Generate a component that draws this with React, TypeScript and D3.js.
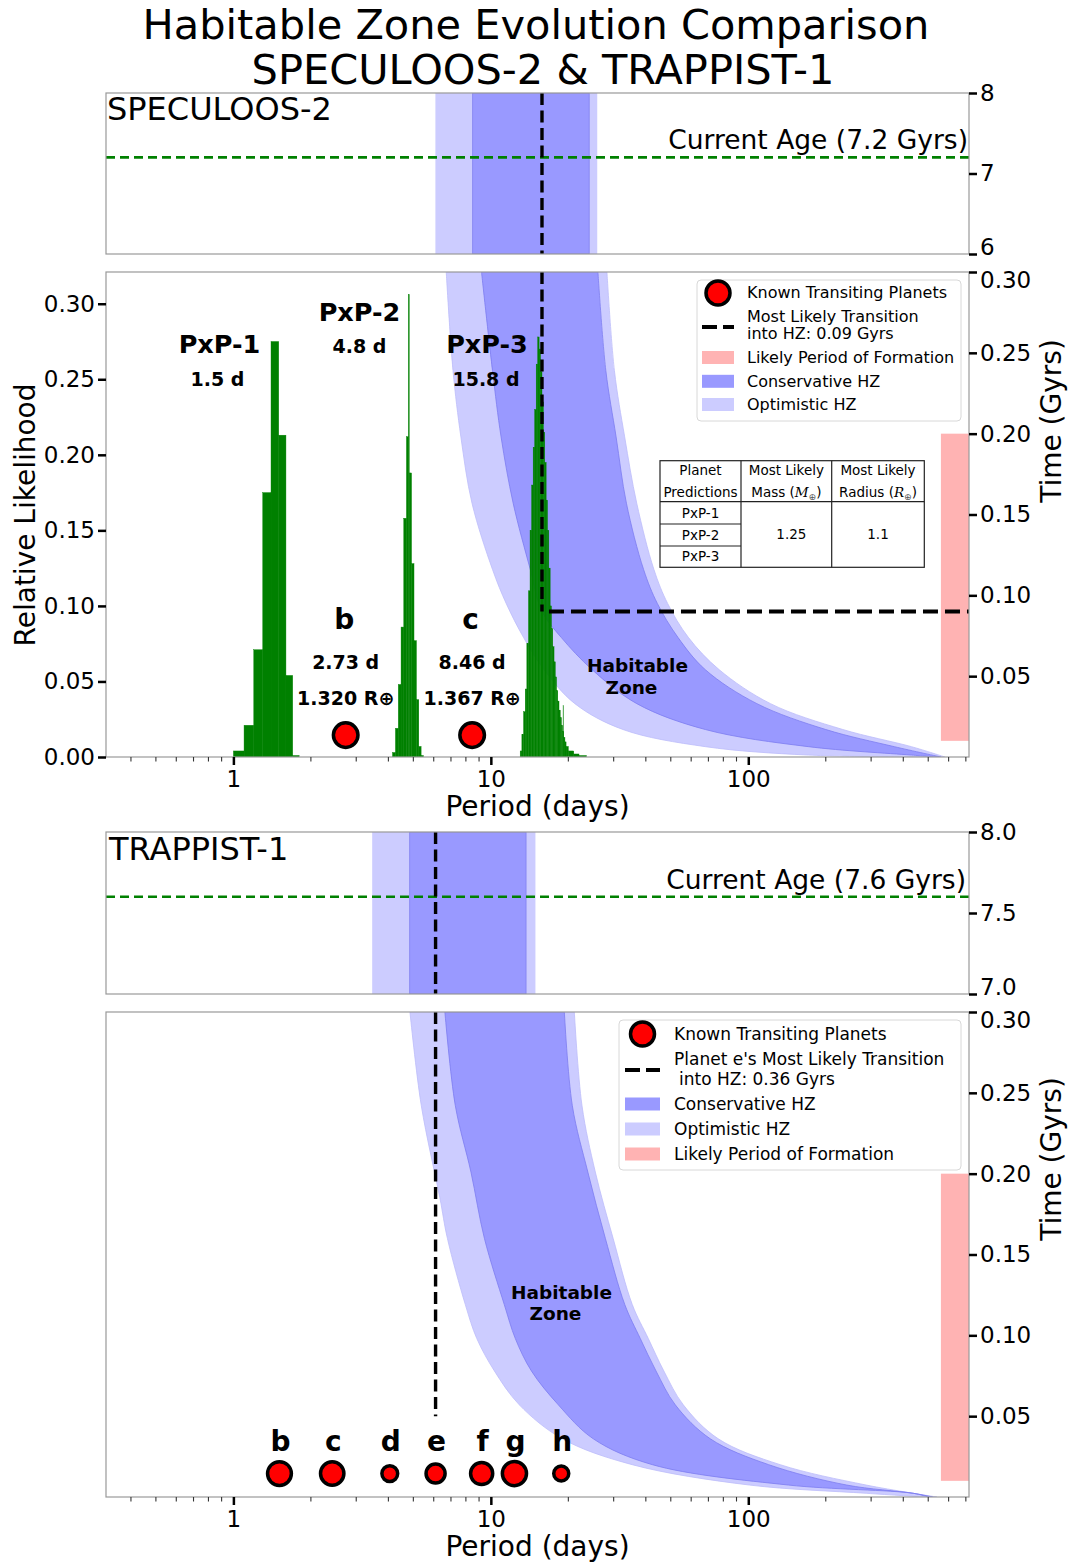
import React, { useEffect, useRef } from "react";
import * as d3 from "d3";

// ---------------- data ----------------
const periodDomain = [0.32, 720];
const periodTicks = [1, 10, 100];
const periodMinorTicks = [
  0.4, 0.5, 0.6, 0.7, 0.8, 0.9, 2, 3, 4, 5, 6, 7, 8, 9, 20, 30, 40, 50, 60, 70, 80, 90,
  200, 300, 400, 500, 600, 700,
];
const timeTicks = [0.05, 0.1, 0.15, 0.2, 0.25, 0.3];
const likelihoodTicks = [0, 0.05, 0.1, 0.15, 0.2, 0.25, 0.3];
const formationGyr = [0.01, 0.2];
const formationStartDays = 560;

// SPECULOOS-2
const specAge = 7.2;
const specAgeTicks = [6, 7, 8];
const specNowHZ = [6.09, 8.5, 24.1, 25.9]; // opt inner, cons inner, cons outer, opt outer (days)
const specTransitionPeriod = 15.8;
const specTransitionGyr = 0.09;
// [time (Gyr), period (days)]
const specOptInner = [
  [0.3, 6.71], [0.239, 7.13], [0.198, 7.65], [0.157, 8.45], [0.116, 10.15], [0.095, 11.47],
  [0.074, 13.39], [0.054, 16.09], [0.033, 21.2], [0.017, 32.6], [0.0064, 68.1], [0.0012, 171], [0, 520],
];
const specConsInner = [
  [0.3, 9.2], [0.239, 10.15], [0.198, 10.96], [0.157, 12.21], [0.116, 14.23], [0.09, 15.8],
  [0.074, 18.76], [0.054, 24.74], [0.033, 36.9], [0.017, 68.1], [0.0064, 171], [0.0012, 430], [0, 540],
];
const specConsOuter = [
  [0.3, 26.06], [0.239, 27.97], [0.198, 30.66], [0.157, 33.62], [0.116, 39.2], [0.095, 44.33],
  [0.074, 53.3], [0.054, 68.1], [0.033, 108], [0.017, 200], [0.0064, 369], [0, 560],
];
const specOptOuter = [
  [0.3, 28.25], [0.239, 30.2], [0.198, 33.1], [0.157, 36.87], [0.116, 43.0], [0.095, 48.6],
  [0.074, 58.5], [0.054, 77.1], [0.033, 122], [0.017, 233], [0.0064, 430], [0, 580],
];
const specPlanetNames = ["b", "c"];
const specPlanetPeriods = [2.73, 8.46];
const specPlanetRadii = ["1.320", "1.367"];
const specPlanetTime = 0.0145;

const pxpNames = ["PxP-1", "PxP-2", "PxP-3"];
const pxpPeriodLabels = ["1.5 d", "4.8 d", "15.8 d"];
const pxp1Edges = [1.0, 1.1, 1.2, 1.3, 1.4, 1.5, 1.6, 1.7, 1.8];
const pxp1Heights = [0.004, 0.021, 0.071, 0.175, 0.275, 0.213, 0.054, 0.001];
const pxp2Edges = [4.15, 4.26, 4.37, 4.48, 4.59, 4.7, 4.78, 4.82, 4.92, 5.03, 5.14, 5.25, 5.36, 5.47];
const pxp2Heights = [0.003, 0.019, 0.048, 0.086, 0.158, 0.212, 0.306, 0.188, 0.128, 0.077, 0.038, 0.007, 0.001];
const pxp3Edges = [
  13.0, 13.2, 13.4, 13.6, 13.8, 14.0, 14.2, 14.4, 14.6, 14.8, 15.0, 15.2, 15.4, 15.6, 15.8, 16.0,
  16.2, 16.4, 16.6, 16.8, 17.0, 17.2, 17.4, 17.6, 17.8, 18.0, 18.2, 18.4, 18.6, 18.8, 19.0, 19.2,
  19.4, 19.6, 20.0, 21.0, 22.0, 23.5,
];
const pxp3Heights = [
  0.004, 0.015, 0.03, 0.045, 0.075, 0.11, 0.15, 0.18, 0.205, 0.23, 0.26, 0.278, 0.27, 0.255, 0.235,
  0.215, 0.195, 0.17, 0.15, 0.125, 0.1, 0.085, 0.073, 0.063, 0.053, 0.044, 0.037, 0.031, 0.026,
  0.021, 0.017, 0.013, 0.01, 0.007, 0.004, 0.002, 0.001,
];
const pxp3SpikeEdges = [19.08, 19.14];
const pxp3SpikeHeight = 0.034;

const tableHeader = [["Planet", "Predictions"], ["Most Likely", "Mass ("], ["Most Likely", "Radius ("]];
const tableRows = ["PxP-1", "PxP-2", "PxP-3"];
const predictedMass = "1.25";
const predictedRadius = "1.1";

// TRAPPIST-1
const trapAge = 7.6;
const trapAgeTicks = [7.0, 7.5, 8.0];
const trapNowHZ = [3.46, 4.84, 13.7, 14.9];
const trapTransitionPeriod = 6.1;
const trapTransitionLineFrom = 0.05;
const trapOptInner = [
  [0.3, 4.85], [0.242, 5.37], [0.185, 6.34], [0.16, 6.78], [0.119, 7.96], [0.098, 8.82],
  [0.078, 10.32], [0.057, 12.9], [0.036, 18.96], [0.02, 35.4], [0.0074, 101], [0.0023, 287], [0, 480],
];
const trapConsInner = [
  [0.3, 6.63], [0.242, 7.28], [0.201, 8.37], [0.16, 9.44], [0.119, 11.28], [0.098, 12.45],
  [0.078, 14.37], [0.057, 18.29], [0.036, 25.0], [0.02, 42.4], [0.0074, 143], [0.0023, 437], [0, 500],
];
const trapConsOuter = [
  [0.3, 19.3], [0.242, 20.73], [0.201, 23.81], [0.16, 27.85], [0.119, 33.14], [0.098, 38.07],
  [0.078, 43.8], [0.057, 52.06], [0.036, 71.2], [0.02, 120], [0.0074, 241], [0.0023, 437], [0, 520],
];
const trapOptOuter = [
  [0.3, 21.1], [0.242, 22.6], [0.201, 25.46], [0.16, 29.85], [0.119, 35.44], [0.098, 40.9],
  [0.078, 46.97], [0.057, 55.93], [0.036, 76.45], [0.02, 133], [0.0074, 287], [0, 540],
];
const trapPlanetNames = ["b", "c", "d", "e", "f", "g", "h"];
const trapPlanetPeriods = [1.51, 2.42, 4.05, 6.1, 9.21, 12.35, 18.77];
const trapPlanetRadii = [1.116, 1.097, 0.788, 0.92, 1.045, 1.129, 0.755];
const trapPlanetTime = 0.0145;

// ---------------- styling ----------------
const W = 1072;
const H = 1564;
const FONT = "DejaVu Sans, Verdana, sans-serif";
const L = 106;
const R = 969;
const OPT = "#ccccff";
const CONS = "#9999ff";
const PINK = "#ffb3b3";
const GREEN = "#008000";
const SPINE = "#999";

const App = () => {
  const ref = useRef<SVGSVGElement>(null);

  useEffect(() => {
    const svg = d3.select(ref.current);
    svg.selectAll("*").remove();
    svg.attr("font-family", FONT);

    const x = d3.scaleLog().domain(periodDomain).range([L, R]);

    const text = (g: any, px: number, py: number, s: string, size: number, opts: any = {}) =>
      g
        .append("text")
        .attr("x", px)
        .attr("y", py)
        .attr("font-size", size)
        .attr("font-weight", opts.bold ? "bold" : "normal")
        .attr("text-anchor", opts.anchor || "start")
        .attr("fill", "#000")
        .text(s);

    const styleAxis = (a: any) => {
      a.select(".domain").remove();
      a.selectAll(".tick line").attr("stroke", "#000").attr("stroke-width", 2.5);
      a.selectAll(".tick text").attr("font-size", 23).attr("font-family", FONT).attr("fill", "#000");
    };

    const frame = (top: number, bottom: number) =>
      svg
        .append("rect")
        .attr("x", L)
        .attr("y", top)
        .attr("width", R - L)
        .attr("height", bottom - top)
        .attr("fill", "none")
        .attr("stroke", SPINE)
        .attr("stroke-width", 1.2);

    const clip = (id: string, top: number, bottom: number) => {
      svg
        .append("clipPath")
        .attr("id", id)
        .append("rect")
        .attr("x", L)
        .attr("y", top)
        .attr("width", R - L)
        .attr("height", bottom - top);
      return svg.append("g").attr("clip-path", `url(#${id})`);
    };

    // shift = [value, pixels] nudges one label away from a neighbouring panel's label
    const rightAxis = (y: any, ticks: number[], fmt: any, shift: number[]) => {
      const a = svg
        .append("g")
        .attr("transform", `translate(${R},0)`)
        .call(d3.axisRight(y).tickValues(ticks).tickSize(8).tickPadding(3).tickFormat(fmt))
        .call(styleAxis);
      a.selectAll(".tick text")
        .filter((d: any) => Math.abs(d - shift[0]) < 1e-9)
        .attr("transform", `translate(0,${shift[1]})`);
      return a;
    };

    const bottomAxis = (bottom: number) => {
      svg
        .append("g")
        .attr("transform", `translate(0,${bottom})`)
        .call(
          d3.axisBottom(x).tickValues(periodTicks).tickSize(8).tickPadding(6).tickFormat(d3.format("d"))
        )
        .call(styleAxis);
      svg
        .append("g")
        .selectAll("line")
        .data(periodMinorTicks)
        .join("line")
        .attr("x1", (d) => x(d))
        .attr("x2", (d) => x(d))
        .attr("y1", bottom)
        .attr("y2", bottom + 4.5)
        .attr("stroke", "#333")
        .attr("stroke-width", 1.1);
      text(svg, (L + R) / 2, bottom + 59, "Period (days)", 28, { anchor: "middle" });
    };

    const timeLabel = (cy: number) =>
      svg
        .append("text")
        .attr("transform", `translate(1061,${cy}) rotate(-90)`)
        .attr("text-anchor", "middle")
        .attr("font-size", 28)
        .text("Time (Gyrs)");

    const bandPath = (inner: number[][], outer: number[][], y: any) => {
      const line = d3
        .line<number[]>()
        .x((d) => x(d[1]))
        .y((d) => y(d[0]))
        .curve(d3.curveCatmullRom.alpha(0.5));
      const a = line(inner) as string;
      const b = line([...outer].reverse()) as string;
      return a + "L" + b.slice(1) + "Z";
    };

    const marker = (g: any, cx: number, cy: number, r: number) =>
      g
        .append("circle")
        .attr("cx", cx)
        .attr("cy", cy)
        .attr("r", r)
        .attr("fill", "#ff0000")
        .attr("stroke", "#000")
        .attr("stroke-width", 3.5);

    const histogram = (g: any, edges: number[], heights: number[], y: any) =>
      g
        .append("g")
        .selectAll("rect")
        .data(heights)
        .join("rect")
        .attr("x", (_d: number, i: number) => x(edges[i]))
        .attr("width", (_d: number, i: number) => x(edges[i + 1]) - x(edges[i]))
        .attr("y", (d: number) => y(d))
        .attr("height", (d: number) => y(0) - y(d))
        .attr("fill", GREEN)
        .attr("stroke", GREEN)
        .attr("stroke-width", 0.4);

    const vdash = (g: any, px: number, y1: number, y2: number) =>
      g
        .append("line")
        .attr("x1", px)
        .attr("x2", px)
        .attr("y1", y1)
        .attr("y2", y2)
        .attr("stroke", "#000")
        .attr("stroke-width", 3.4)
        .attr("stroke-dasharray", "12,5.5");

    const legend = (box: number[], hx: number[], tx: number, size: number, rows: any[]) => {
      const g = svg.append("g");
      g.append("rect")
        .attr("x", box[0])
        .attr("y", box[1])
        .attr("width", box[2])
        .attr("height", box[3])
        .attr("rx", 4)
        .attr("fill", "#fff")
        .attr("fill-opacity", 0.85)
        .attr("stroke", "#d8d8d8")
        .attr("stroke-width", 1);
      rows.forEach((r) => {
        if (r.kind === "marker") marker(g, (hx[0] + hx[1]) / 2, r.y, 12);
        else if (r.kind === "dash")
          g.append("line")
            .attr("x1", hx[0])
            .attr("x2", hx[1])
            .attr("y1", r.y)
            .attr("y2", r.y)
            .attr("stroke", "#000")
            .attr("stroke-width", 4)
            .attr("stroke-dasharray", "15,6");
        else
          g.append("rect")
            .attr("x", hx[0])
            .attr("y", r.y - 6.5)
            .attr("width", hx[1] - hx[0])
            .attr("height", 13)
            .attr("fill", r.color);
        r.lines.forEach((s: string, i: number) =>
          text(g, tx + (r.indent && i > 0 ? r.indent : 0), r.lineY[i], s, size).attr("dy", "0.36em")
        );
      });
    };

    // ---------------- title ----------------
    text(svg, W / 2, 39, "Habitable Zone Evolution Comparison", 41.5, { anchor: "middle" });
    text(svg, W / 2 + 7, 84, "SPECULOOS-2 & TRAPPIST-1", 41.5, { anchor: "middle" });

    // ---------------- panel A: SPECULOOS-2 now ----------------
    {
      const top = 93;
      const bottom = 254;
      const y = d3.scaleLinear().domain([6, 8]).range([bottom, top]);
      const g = clip("clipA", top, bottom);
      g.append("rect").attr("x", x(specNowHZ[0])).attr("width", x(specNowHZ[3]) - x(specNowHZ[0]))
        .attr("y", top).attr("height", bottom - top).attr("fill", OPT);
      g.append("rect").attr("x", x(specNowHZ[1])).attr("width", x(specNowHZ[2]) - x(specNowHZ[1]))
        .attr("y", top).attr("height", bottom - top).attr("fill", CONS)
        .attr("stroke", "#8080f0").attr("stroke-width", 0.8);
      g.append("line").attr("x1", L).attr("x2", R).attr("y1", y(specAge)).attr("y2", y(specAge))
        .attr("stroke", GREEN).attr("stroke-width", 2.6).attr("stroke-dasharray", "9,5");
      vdash(g, x(specTransitionPeriod), top, bottom);
      text(svg, L + 1, top + 27, "SPECULOOS-2", 32);
      text(svg, R - 1, y(specAge) - 8, `Current Age (${specAge} Gyrs)`, 26.5, { anchor: "end" });
      frame(top, bottom);
      rightAxis(y, specAgeTicks, d3.format("d"), [6, -7]);
    }

    // ---------------- panel B: SPECULOOS-2 early ----------------
    {
      const top = 272;
      const bottom = 757;
      const yT = d3.scaleLinear().domain([0, 0.3]).range([bottom, top]);
      const yL = d3.scaleLinear().domain([0, 0.321]).range([bottom, top]);
      const g = clip("clipB", top, bottom);
      g.append("path").attr("d", bandPath(specOptInner, specOptOuter, yT)).attr("fill", OPT)
        .attr("stroke", "#bcbcfa").attr("stroke-width", 0.8);
      g.append("path").attr("d", bandPath(specConsInner, specConsOuter, yT)).attr("fill", CONS)
        .attr("stroke", "#7c7cf0").attr("stroke-width", 0.8);
      g.append("rect").attr("x", x(formationStartDays)).attr("width", R - x(formationStartDays))
        .attr("y", yT(formationGyr[1])).attr("height", yT(formationGyr[0]) - yT(formationGyr[1]))
        .attr("fill", PINK);
      histogram(g, pxp1Edges, pxp1Heights, yL);
      histogram(g, pxp2Edges, pxp2Heights, yL);
      histogram(g, pxp3Edges, pxp3Heights, yL);
      histogram(g, pxp3SpikeEdges, [pxp3SpikeHeight], yL);

      const xt = x(specTransitionPeriod);
      vdash(g, xt, top, yT(specTransitionGyr));
      g.append("line").attr("x1", xt).attr("x2", R).attr("y1", yT(specTransitionGyr)).attr("y2", yT(specTransitionGyr))
        .attr("stroke", "#000").attr("stroke-width", 4).attr("stroke-dasharray", "15,7")
        .attr("stroke-dashoffset", 15);

      // known planets
      specPlanetPeriods.forEach((p, i) => {
        const cx = x(p);
        const cy = yL(specPlanetTime);
        marker(g, cx, cy, 12.3);
        text(svg, cx - 1.5, cy - 106, specPlanetNames[i], 28, { bold: true, anchor: "middle" });
        text(svg, cx, cy - 66, `${p.toFixed(2)} d`, 19, { bold: true, anchor: "middle" });
        text(svg, cx, cy - 30, `${specPlanetRadii[i]} R\u2295`, 19, { bold: true, anchor: "middle" });
      });

      // predicted planet labels
      const labelPos = [
        [219.5, 353, 217.5, 386],
        [359.5, 321, 359.5, 353],
        [487, 353, 486, 386],
      ];
      pxpNames.forEach((n, i) => {
        const p = labelPos[i];
        text(svg, p[0], p[1], n, 25.5, { bold: true, anchor: "middle" });
        text(svg, p[2], p[3], pxpPeriodLabels[i], 19, { bold: true, anchor: "middle" });
      });
      text(svg, 637.5, 672, "Habitable", 18.5, { bold: true, anchor: "middle" });
      text(svg, 631.5, 694, "Zone", 18.5, { bold: true, anchor: "middle" });

      // table of predictions
      const tx = [660, 741, 831.7, 924.3];
      const ty = [460.7, 501.7, 524, 546, 567.3];
      const tg = svg.append("g").attr("font-size", 13.5);
      tg.append("rect").attr("x", tx[0]).attr("y", ty[0]).attr("width", tx[3] - tx[0])
        .attr("height", ty[4] - ty[0]).attr("fill", "#fff").attr("stroke", "#222").attr("stroke-width", 1.2);
      const seg = (x1: number, y1: number, x2: number, y2: number) =>
        tg.append("line").attr("x1", x1).attr("y1", y1).attr("x2", x2).attr("y2", y2)
          .attr("stroke", "#222").attr("stroke-width", 1.2);
      seg(tx[1], ty[0], tx[1], ty[4]);
      seg(tx[2], ty[0], tx[2], ty[4]);
      seg(tx[0], ty[1], tx[3], ty[1]);
      seg(tx[0], ty[2], tx[1], ty[2]);
      seg(tx[0], ty[3], tx[1], ty[3]);
      tableHeader.forEach((h, c) => {
        const cx = (tx[c] + tx[c + 1]) / 2;
        tg.append("text").attr("x", cx).attr("y", 474.5).attr("text-anchor", "middle").text(h[0]);
        const t2 = tg.append("text").attr("x", cx).attr("y", 496.5).attr("text-anchor", "middle").text(h[1]);
        if (c > 0) {
          t2.append("tspan").attr("font-family", "DejaVu Serif").attr("font-style", "italic")
            .text(c === 1 ? "M" : "R");
          t2.append("tspan").attr("font-size", 9).attr("dy", 3).attr("fill", "#555").text("\u2295");
          t2.append("tspan").attr("dy", -3).text(")");
        }
      });
      tableRows.forEach((r, i) => {
        tg.append("text").attr("x", (tx[0] + tx[1]) / 2).attr("y", (ty[i + 1] + ty[i + 2]) / 2 + 4.7)
          .attr("text-anchor", "middle").text(r);
      });
      tg.append("text").attr("x", (tx[1] + tx[2]) / 2 + 5).attr("y", (ty[1] + ty[4]) / 2 + 4.7)
        .attr("text-anchor", "middle").text(predictedMass);
      tg.append("text").attr("x", (tx[2] + tx[3]) / 2).attr("y", (ty[1] + ty[4]) / 2 + 4.7)
        .attr("text-anchor", "middle").text(predictedRadius);

      legend([697, 280, 264, 141], [702, 734], 747, 16, [
        { kind: "marker", y: 293, lines: ["Known Transiting Planets"], lineY: [292.5] },
        { kind: "dash", y: 327, lines: ["Most Likely Transition", `into HZ: ${specTransitionGyr} Gyrs`], lineY: [316.5, 333.5] },
        { kind: "patch", color: PINK, y: 357.5, lines: ["Likely Period of Formation"], lineY: [357.5] },
        { kind: "patch", color: CONS, y: 381.3, lines: ["Conservative HZ"], lineY: [381] },
        { kind: "patch", color: OPT, y: 404.5, lines: ["Optimistic HZ"], lineY: [404.5] },
      ]);

      frame(top, bottom);
      rightAxis(yT, timeTicks, d3.format(".2f"), [0.3, 8]);
      svg.append("g").attr("transform", `translate(${L},0)`)
        .call(d3.axisLeft(yL).tickValues(likelihoodTicks).tickSize(8).tickPadding(3).tickFormat(d3.format(".2f")))
        .call(styleAxis);
      bottomAxis(bottom);
      timeLabel(421);
      svg.append("text").attr("transform", `translate(35,515) rotate(-90)`).attr("text-anchor", "middle")
        .attr("font-size", 28).text("Relative Likelihood");
    }

    // ---------------- panel C: TRAPPIST-1 now ----------------
    {
      const top = 832;
      const bottom = 994;
      const y = d3.scaleLinear().domain([7, 8]).range([bottom, top]);
      const g = clip("clipC", top, bottom);
      g.append("rect").attr("x", x(trapNowHZ[0])).attr("width", x(trapNowHZ[3]) - x(trapNowHZ[0]))
        .attr("y", top).attr("height", bottom - top).attr("fill", OPT);
      g.append("rect").attr("x", x(trapNowHZ[1])).attr("width", x(trapNowHZ[2]) - x(trapNowHZ[1]))
        .attr("y", top).attr("height", bottom - top).attr("fill", CONS)
        .attr("stroke", "#8080f0").attr("stroke-width", 0.8);
      g.append("line").attr("x1", L).attr("x2", R).attr("y1", y(trapAge)).attr("y2", y(trapAge))
        .attr("stroke", GREEN).attr("stroke-width", 2.6).attr("stroke-dasharray", "9,5");
      vdash(g, x(trapTransitionPeriod), top, bottom);
      text(svg, L + 3, top + 28, "TRAPPIST-1", 32);
      text(svg, R - 3, y(trapAge) - 8, `Current Age (${trapAge} Gyrs)`, 26.5, { anchor: "end" });
      frame(top, bottom);
      rightAxis(y, trapAgeTicks, d3.format(".1f"), [7, -7]);
    }

    // ---------------- panel D: TRAPPIST-1 early ----------------
    {
      const top = 1012;
      const bottom = 1497;
      const yT = d3.scaleLinear().domain([0, 0.3]).range([bottom, top]);
      const g = clip("clipD", top, bottom);
      g.append("path").attr("d", bandPath(trapOptInner, trapOptOuter, yT)).attr("fill", OPT)
        .attr("stroke", "#bcbcfa").attr("stroke-width", 0.8);
      g.append("path").attr("d", bandPath(trapConsInner, trapConsOuter, yT)).attr("fill", CONS)
        .attr("stroke", "#7c7cf0").attr("stroke-width", 0.8);
      g.append("rect").attr("x", x(formationStartDays)).attr("width", R - x(formationStartDays))
        .attr("y", yT(formationGyr[1])).attr("height", yT(formationGyr[0]) - yT(formationGyr[1]))
        .attr("fill", PINK);
      vdash(g, x(trapTransitionPeriod), top, yT(trapTransitionLineFrom));
      trapPlanetPeriods.forEach((p, i) => {
        const cx = x(p);
        const cy = yT(trapPlanetTime);
        marker(g, cx, cy, 12.25 * trapPlanetRadii[i] - 1.75);
        text(svg, cx + 1, cy - 23, trapPlanetNames[i], 28, { bold: true, anchor: "middle" });
      });
      text(svg, 561.5, 1298.5, "Habitable", 18.5, { bold: true, anchor: "middle" });
      text(svg, 555.5, 1320, "Zone", 18.5, { bold: true, anchor: "middle" });

      legend([619, 1020, 342, 150], [625, 660], 674, 17, [
        { kind: "marker", y: 1034, lines: ["Known Transiting Planets"], lineY: [1034] },
        {
          kind: "dash",
          y: 1070,
          lines: ["Planet e's Most Likely Transition", "into HZ: 0.36 Gyrs"],
          lineY: [1059, 1078.5],
          indent: 5,
        },
        { kind: "patch", color: CONS, y: 1104, lines: ["Conservative HZ"], lineY: [1104] },
        { kind: "patch", color: OPT, y: 1129, lines: ["Optimistic HZ"], lineY: [1129] },
        { kind: "patch", color: PINK, y: 1154, lines: ["Likely Period of Formation"], lineY: [1154] },
      ]);

      frame(top, bottom);
      rightAxis(yT, timeTicks, d3.format(".2f"), [0.3, 8]);
      bottomAxis(bottom);
      timeLabel(1159);
    }
  }, []);

  return (
    <svg
      ref={ref}
      width={W}
      height={H}
      style={{ position: "absolute", left: 0, top: 0, background: "#fff" }}
    />
  );
};

export default App;
